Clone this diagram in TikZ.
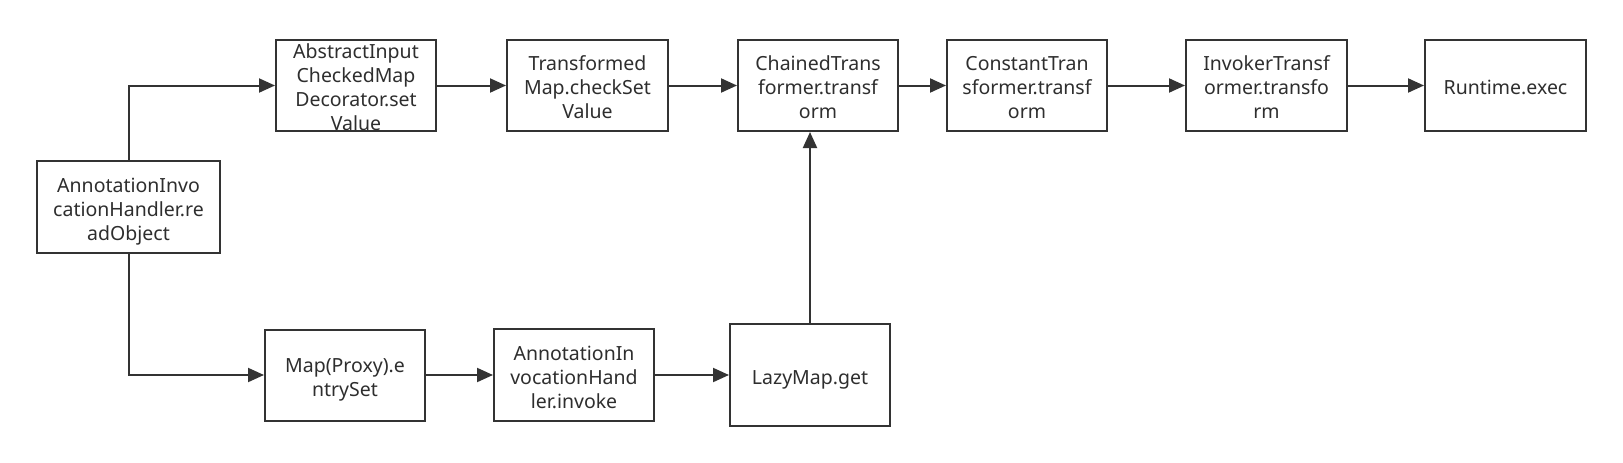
\documentclass[tikz,border=0pt]{standalone}
\usepackage{fontspec}
\setmainfont{Noto Sans}
\usetikzlibrary{arrows.meta}
\definecolor{ln}{HTML}{333333}
\newcommand\boxtext[1]{\begin{tabular}{@{}c@{}}#1\end{tabular}}
\tikzset{
  box/.style={draw=ln, line width=2pt, inner sep=0pt, text height=19pt, text depth=0pt,
    font=\fontsize{19.5}{24}\selectfont, text=ln!90!black},
  conn/.style={draw=ln, line width=2pt, -{Triangle[length=16pt,width=14pt]}}
}
\begin{document}
\begin{tikzpicture}[x=1pt,y=-1pt]
\useasboundingbox[fill=white] (0,0) rectangle (1623,463);
\node[box, minimum width=183pt, minimum height=92pt] (ro) at (128.5,207) {\boxtext{AnnotationInvo\\cationHandler.re\\adObject}};
\node[box, minimum width=160pt, minimum height=91pt] (abs) at (356,85.5) {\boxtext{AbstractInput\\CheckedMap\\Decorator.set\\Value}};
\node[box, minimum width=161pt, minimum height=91pt] (tm) at (587.5,85.5) {\boxtext{Transformed\\Map.checkSet\\Value}};
\node[box, minimum width=160pt, minimum height=91pt] (ch) at (818,85.5) {\boxtext{ChainedTrans\\former.transf\\orm}};
\node[box, minimum width=160pt, minimum height=91pt] (ct) at (1027,85.5) {\boxtext{ConstantTran\\sformer.transf\\orm}};
\node[box, minimum width=161pt, minimum height=91pt] (iv) at (1266.5,85.5) {\boxtext{InvokerTransf\\ormer.transfo\\rm}};
\node[box, minimum width=161pt, minimum height=91pt] (rt) at (1505.5,85.5) {\boxtext{Runtime.exec}};
\node[box, minimum width=160pt, minimum height=91pt] (mp) at (345,375) {\boxtext{Map(Proxy).e\\ntrySet}};
\node[box, minimum width=160pt, minimum height=92pt] (inv) at (574,375) {\boxtext{AnnotationIn\\vocationHand\\ler.invoke}};
\node[box, minimum width=160pt, minimum height=102pt] (lz) at (810,375) {\boxtext{LazyMap.get}};
\draw[conn] (ro.north) |- (abs.west);
\draw[conn] (ro.south) |- (mp.west);
\draw[conn] (abs.east) -- (tm.west);
\draw[conn] (tm.east) -- (ch.west);
\draw[conn] (ch.east) -- (ct.west);
\draw[conn] (ct.east) -- (iv.west);
\draw[conn] (iv.east) -- (rt.west);
\draw[conn] (mp.east) -- (inv.west);
\draw[conn] (inv.east) -- (lz.west);
\draw[conn] (lz.north) -- (lz.north |- ch.south);
\end{tikzpicture}
\end{document}
